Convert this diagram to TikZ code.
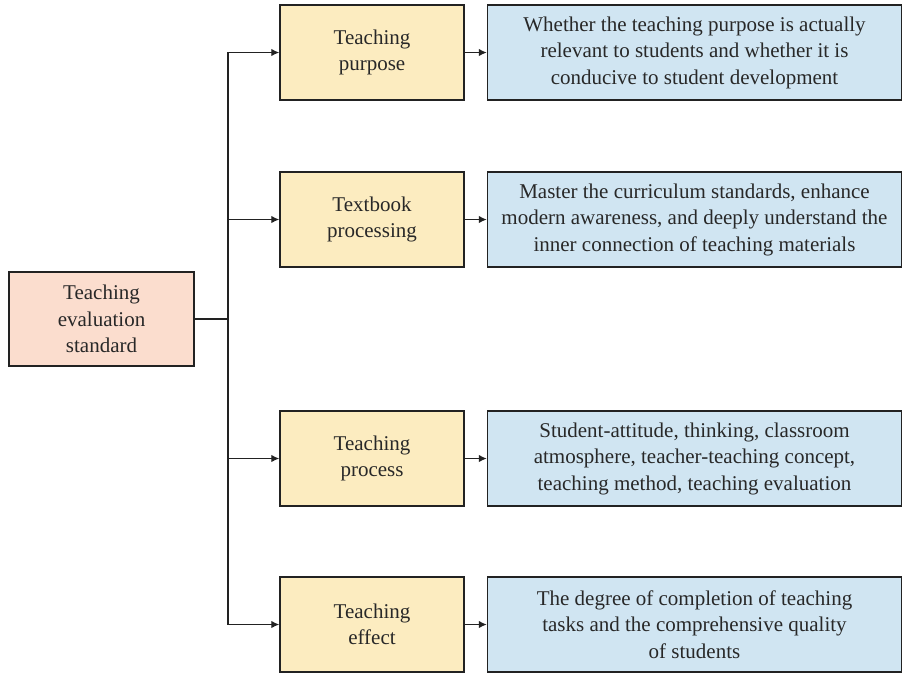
\documentclass[tikz,border=0pt]{standalone}
\usepackage{fontspec}
\setmainfont{Liberation Serif}
\usetikzlibrary{arrows.meta}
\definecolor{rootfill}{RGB}{251,221,206}
\definecolor{aspectfill}{RGB}{252,236,192}
\definecolor{detailfill}{RGB}{208,229,242}
\definecolor{inkline}{RGB}{34,34,34}
\definecolor{inktext}{RGB}{40,40,40}
\begin{document}
\begin{tikzpicture}[x=1pt,y=-1pt,
  box/.style={draw=inkline,line width=1.4pt,inner sep=0pt,align=center,
    text=inktext,font=\fontsize{21}{26.5}\selectfont},
  rootbox/.style={box,fill=rootfill,minimum width=185pt,minimum height=94pt},
  aspectbox/.style={box,fill=aspectfill,minimum width=184pt,minimum height=95pt},
  detailbox/.style={box,fill=detailfill,minimum width=414pt,minimum height=95pt},
  link/.style={draw=inkline,line width=1.3pt},
  arr/.style={link,-{Latex[length=8pt,width=7.5pt]}}]
\useasboundingbox (0,0) rectangle (903,673);

% evaluation standard and its four aspects
\node[rootbox] (root) at (101.5,319) {Teaching\\evaluation\\standard};

\node[aspectbox] (a1) at (372,52.5) {Teaching\\purpose};
\node[aspectbox] (a2) at (372,219.5) {Textbook\\processing};
\node[aspectbox] (a3) at (372,458.5) {Teaching\\process};
\node[aspectbox] (a4) at (372,624.5) {Teaching\\effect};

% what each aspect looks at
\node[detailbox] (d1) at (694.5,52.5) {Whether the teaching purpose is actually\\relevant to students and whether it is\\conducive to student development};
\node[detailbox] (d2) at (694.5,219.5) {Master the curriculum standards, enhance\\modern awareness, and deeply understand the\\inner connection of teaching materials};
\node[detailbox] (d3) at (694.5,458.5) {Student-attitude, thinking, classroom\\atmosphere, teacher-teaching concept,\\teaching method, teaching evaluation};
\node[detailbox] (d4) at (694.5,624.5) {The degree of completion of teaching\\tasks and the comprehensive quality\\of students};

% branching trunk
\coordinate (trunk) at (228,319);
\draw[link] (root.east) -- (trunk);
\foreach \i in {1,...,4} {
  \draw[arr] (trunk) |- (a\i.west);
  \draw[arr] (a\i.east) -- (d\i.west);
}
\end{tikzpicture}
\end{document}
